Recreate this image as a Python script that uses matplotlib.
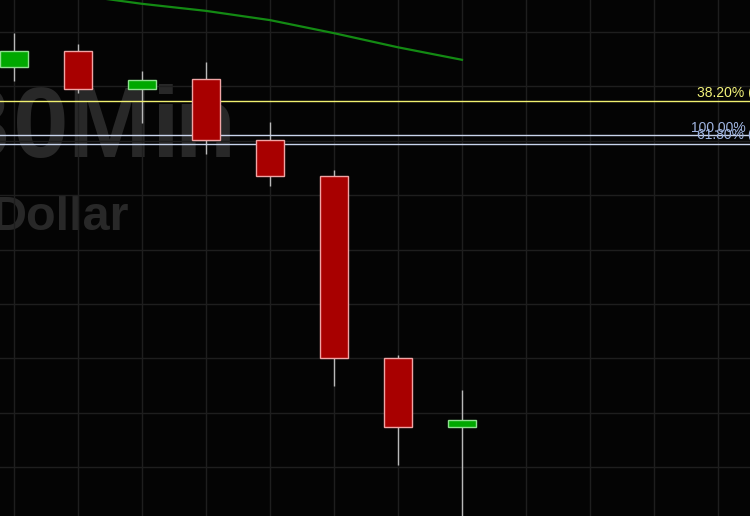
import matplotlib
matplotlib.use("Agg")
import matplotlib.pyplot as plt
from matplotlib.patches import Rectangle

# ---- data ----
opens  = [1.30736, 1.30765, 1.30695, 1.30714, 1.30601, 1.30535, 1.30200, 1.30073]
highs  = [1.30798, 1.30778, 1.30728, 1.30745, 1.30634, 1.30546, 1.30206, 1.30141]
lows   = [1.30710, 1.30688, 1.30633, 1.30576, 1.30517, 1.30150, 1.30003, 1.29900]
closes = [1.30765, 1.30695, 1.30712, 1.30601, 1.30535, 1.30200, 1.30073, 1.30086]

ma_idx = [1, 2, 3, 4, 5, 6, 7]
ma_vals = [1.30868, 1.30852, 1.30839, 1.30822, 1.30798, 1.30772, 1.30749]

fib_labels = ["38.20% (1.30673)", "100.00% (1.30610)", "61.80% (1.30594)"]
fib_levels = [1.30673, 1.30610, 1.30594]
fib_colors = ["#f0f070", "#c8d4ec", "#c8d4ec"]
fib_text_colors = ["#f2f27a", "#9fb4e0", "#9fb4e0"]
fib_text_offsets = [0.000074, 0.000055, 0.000100]
fib_text_x = [10.67, 10.58, 10.67]

grid_prices = [1.3000 + 0.001 * k for k in range(9)]

watermark_1 = "30Min"
watermark_2 = "Dollar"

W, H, DPI = 750, 516, 100
BG = "#040404"
WM = "#282828"
fig = plt.figure(figsize=(W / DPI, H / DPI), dpi=DPI, facecolor=BG)
ax = fig.add_axes([0, 0, 1, 1])
ax.set_facecolor(BG)
ax.set_xlim(-14 / 64, (750 - 14) / 64)
ax.set_ylim(1.29910, 1.30859)
for s in ax.spines.values():
    s.set_visible(False)
ax.set_xticks([])
ax.set_yticks([])

# grid
for i in range(12):
    ax.axvline(i, color="#1e1e1e", lw=1.0, zorder=1)
for p in grid_prices:
    ax.axhline(p, color="#1e1e1e", lw=1.0, zorder=1)

# watermark (letter-spaced; glyph centres in pixels)
wm_centres = [-18, 41, 109, 166, 205]
for ch, cx in zip(watermark_1, wm_centres):
    ax.text(cx / W, 1 - 157 / H, ch, transform=ax.transAxes,
            ha="center", va="baseline", fontsize=72, fontweight="bold",
            family="Liberation Sans", color=WM, zorder=0.5)
ax.text(129 / W, 1 - 230 / H, watermark_2, transform=ax.transAxes,
        ha="right", va="baseline",
        fontsize=35, fontweight="bold", family="Liberation Sans",
        color=WM, zorder=0.5)

# moving average
ax.plot(ma_idx, ma_vals, color="#138a13", lw=1.6, zorder=3)

# fib lines
for lvl, c, tc, lab, off, tx in zip(fib_levels, fib_colors, fib_text_colors,
                                    fib_labels, fib_text_offsets, fib_text_x):
    ax.axhline(lvl, color=c, lw=1.0, zorder=4)
    ax.text(tx, lvl + off, lab, color=tc, fontsize=10,
            family="Liberation Sans", ha="left", va="baseline", zorder=5,
            clip_on=True)

# candles
bw = 28 / 64
for i, (o, h, l, c) in enumerate(zip(opens, highs, lows, closes)):
    ax.vlines(i, l, h, color="#b8b8b8", lw=1.0, zorder=2)
    up = c >= o
    face = "#00a800" if up else "#a80000"
    edge = "#8ee08e" if up else "#f0a4a4"
    ax.add_patch(Rectangle((i - bw / 2, min(o, c)), bw, abs(c - o),
                           facecolor=face, edgecolor=edge, lw=1.0, zorder=6))

fig.savefig("out.png", dpi=DPI, facecolor=fig.get_facecolor())
